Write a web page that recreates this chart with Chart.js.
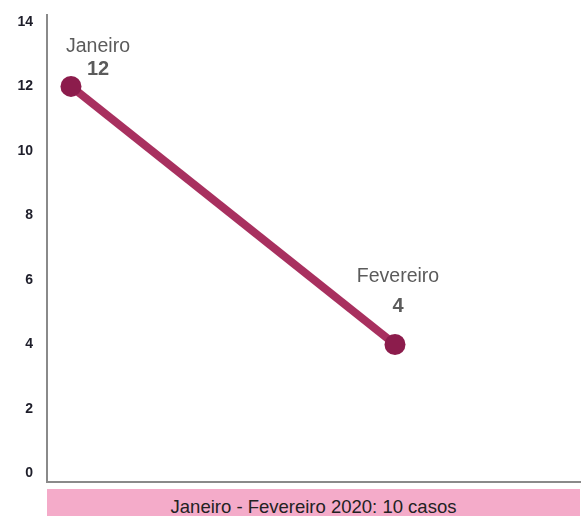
<!DOCTYPE html>
<html>
<head>
<meta charset="utf-8">
<script src="https://cdn.jsdelivr.net/npm/chart.js@4"></script>
<style>
  html, body { margin: 0; padding: 0; background: #fff; }
  #wrap { position: relative; width: 585px; height: 516px; overflow: hidden; }
  #chart { position: absolute; left: 0; top: -7px; }
  #banner {
    position: absolute; left: 47px; top: 489px; width: 533px; height: 27px;
    background: #f4abc9; color: #222;
    font: 18.5px "Liberation Sans", Arial, sans-serif;
    text-align: center; line-height: 36px;
  }
</style>
</head>
<body>
<div id="wrap">
  <canvas id="chart" width="585" height="511"></canvas>
  <div id="banner">Janeiro - Fevereiro 2020: 10 casos</div>
</div>
<script>
// chart data
const months = ["Janeiro", "Fevereiro"];
const cases = [12, 4];
const yTicks = [0, 2, 4, 6, 8, 10, 12, 14];

const points = months.map((m, i) => ({ x: i + 1, y: cases[i] }));

// month name + value drawn above each point
const pointLabels = {
  id: "pointLabels",
  afterDatasetsDraw(chart) {
    const ctx = chart.ctx;
    const meta = chart.getDatasetMeta(0);
    const area = chart.chartArea;
    ctx.save();
    ctx.textAlign = "center";
    ctx.textBaseline = "middle";
    meta.data.forEach((el, i) => {
      const x = Math.max(el.x + 3, area.left + 51);
      let nameY = el.y - 68;
      let valY = el.y - 38;
      if (nameY < area.top + 31) { nameY = area.top + 31; valY = nameY + 23; }
      ctx.fillStyle = "#5b5b5b";
      ctx.font = "19.5px 'Liberation Sans', Arial, sans-serif";
      ctx.fillText(months[i], x, nameY);
      ctx.font = "bold 20px 'Liberation Sans', Arial, sans-serif";
      ctx.fillText(String(cases[i]), x, valY);
    });
    ctx.restore();
  }
};

new Chart(document.getElementById("chart"), {
  type: "line",
  data: {
    datasets: [{
      label: "Casos",
      data: points,
      borderColor: "#a8305f",
      borderWidth: 8,
      pointBackgroundColor: "#8c1c4c",
      pointBorderColor: "#8c1c4c",
      pointRadius: 10.5,
      pointBorderWidth: 0,
      fill: false,
      tension: 0
    }]
  },
  options: {
    responsive: false,
    animation: false,
    layout: { autoPadding: false, padding: { top: 6, right: 5, left: 0, bottom: 0 } },
    plugins: {
      legend: { display: false },
      tooltip: { enabled: false }
    },
    scales: {
      x: {
        type: "linear",
        min: 0.926,
        max: 2.571,
        grid: { display: false, drawTicks: false },
        border: { display: true, color: "#8a8a8a", width: 2 },
        ticks: { display: false },
        afterFit(scale) { scale.height = 4; }
      },
      y: {
        min: -0.25,
        max: 14.2,
        afterBuildTicks(scale) { scale.ticks = yTicks.map(v => ({ value: v })); },
        grid: { display: false, drawTicks: false },
        border: { display: true, color: "#8a8a8a", width: 2 },
        ticks: {
          padding: 14,
          color: "#1e1e2a",
          font: { family: "'Liberation Sans', Arial, sans-serif", size: 14, weight: "bold" }
        },
        afterFit(scale) { scale.width = 47; }
      }
    }
  },
  plugins: [pointLabels]
});
</script>
</body>
</html>
